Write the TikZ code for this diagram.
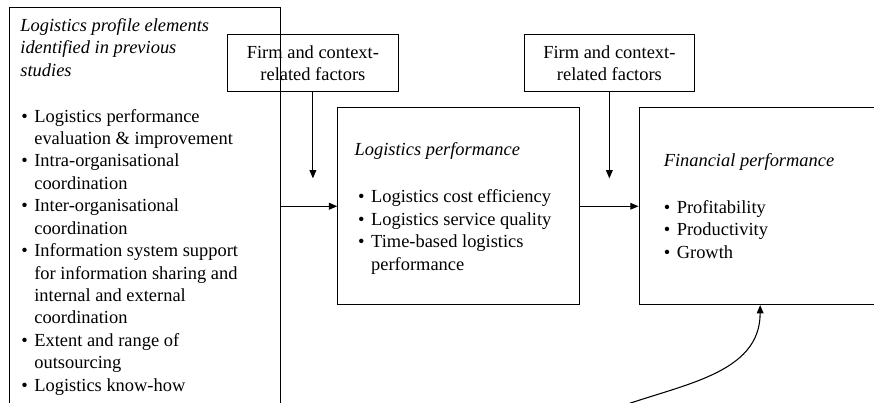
\documentclass[tikz,border=0pt]{standalone}
\usepackage{fontspec}
\setmainfont{Liberation Serif}
\usetikzlibrary{arrows.meta,positioning,calc}

\newcommand{\blt}{\makebox[8.5pt][l]{\textbullet}}
\newcommand{\ind}{\hspace*{8.5pt}}

\begin{document}
\begin{tikzpicture}[
  line/.style={line width=0.7pt},
  arr/.style={line, -{Triangle[length=5.4pt,width=4.4pt]}},
  frame/.style={draw, line, minimum width=5.54cm, minimum height=4.5cm},
  factor/.style={draw, line, minimum width=3.9cm, minimum height=1.3cm,
    align=center, font=\fontsize{12pt}{14.4pt}\selectfont},
  txt/.style={anchor=north west, inner sep=0pt, align=left,
    font=\fontsize{12pt}{14.6pt}\selectfont},
  head/.style={txt, font=\fontsize{12pt}{14.6pt}\selectfont\itshape}
]
\useasboundingbox (0,0) rectangle (20,9.22);
\clip (0,0) rectangle (20,9.22);

%================================================
% LEFT:  logistics profile
%================================================
\node[draw, line, anchor=north west, minimum width=6.2cm,
  minimum height=10cm] (profile) at (0.21,9.06) {};

\node[head] (profhead) at ($(profile.north west)+(0.25,-0.25)$)
  {Logistics profile elements\\identified in previous\\studies};

\node[txt] (proflist) at ($(profile.north west)+(0.27,-2.33)$)
  {\blt Logistics performance\\
   \ind evaluation \& improvement\\
   \blt Intra-organisational\\
   \ind coordination\\
   \blt Inter-organisational\\
   \ind coordination\\
   \blt Information system support\\
   \ind for information sharing and\\
   \ind internal and external\\
   \ind coordination\\
   \blt Extent and range of\\
   \ind outsourcing\\
   \blt Logistics know-how};

%================================================
% MIDDLE + RIGHT:  performance boxes
%================================================
\node[frame] (perf) at (10.5,4.5) {};
\node[frame, right=1.33cm of perf] (fin) {};

\node[head] (perfhead) at ($(perf.north west)+(0.39,-0.8)$)
  {Logistics performance};
\node[txt] (perflist) at ($(perf.north west)+(0.47,-1.88)$)
  {\blt Logistics cost efficiency\\
   \blt Logistics service quality\\
   \blt Time-based logistics\\
   \ind performance};

\node[head] (finhead) at ($(fin.north west)+(0.57,-1.04)$)
  {Financial performance};
\node[txt] (finlist) at ($(fin.north west)+(0.57,-2.12)$)
  {\blt Profitability\\
   \blt Productivity\\
   \blt Growth};

% context factors on top
\node[factor] (fact1) at (7.16,7.77) {Firm and context-\\related factors};
\node[factor, right=2.86cm of fact1] (fact2) {Firm and context-\\related factors};

%================================================
% arrows
%================================================
\coordinate (in1) at ($(fact1.south)+(0,-1.97)$);
\coordinate (in2) at ($(fact2.south)+(0,-1.97)$);
\coordinate (src) at (14.12,-0.11);

\draw[arr] (fact1.south) -- (in1);
\draw[arr] (fact2.south) -- (in2);
\draw[arr] (profile.east |- perf.west) -- (perf.west);
\draw[arr] (perf.east) -- (fin.west);
\draw[arr] (src) to[out=20,in=-90] (fin.south);

\end{tikzpicture}
\end{document}
